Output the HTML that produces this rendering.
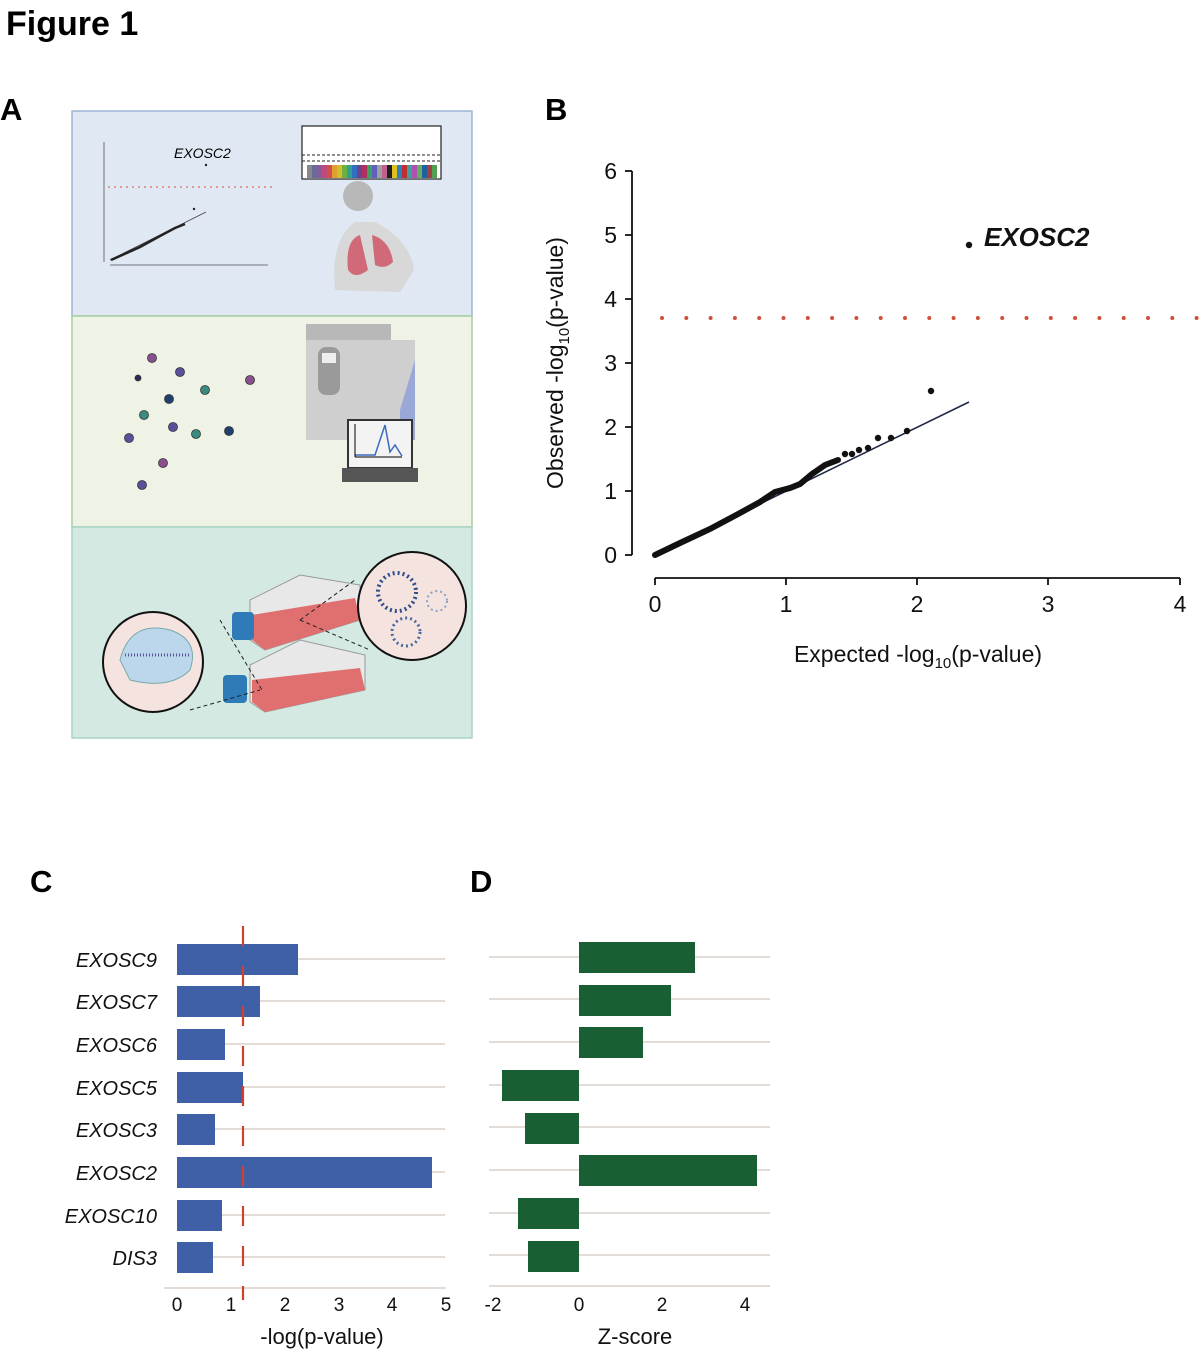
<!DOCTYPE html>
<html><head><meta charset="utf-8"><style>
html,body{margin:0;padding:0;background:#fff;}
svg{display:block;font-family:"Liberation Sans",Arial,sans-serif;}
</style></head><body>
<svg width="1203" height="1353" viewBox="0 0 1203 1353" xmlns="http://www.w3.org/2000/svg">
<text x="6" y="35" font-size="34" font-weight="bold">Figure 1</text>
<text x="0" y="120" font-size="31" font-weight="bold">A</text>
<text x="545" y="120" font-size="31" font-weight="bold">B</text>
<text x="30" y="892" font-size="31" font-weight="bold">C</text>
<text x="470" y="892" font-size="31" font-weight="bold">D</text>

<!-- Panel A -->
<rect x="72" y="111" width="400" height="205" fill="#dfe8f3" stroke="#9fb5d5" stroke-width="1.5"/>
<rect x="72" y="316" width="400" height="211" fill="#eef3e6" stroke="#a9cf9f" stroke-width="1.5"/>
<rect x="72" y="527" width="400" height="211" fill="#d3e9e2" stroke="#a9d4c6" stroke-width="1.5"/>
<!-- mini qq -->
<line x1="104" y1="142" x2="104" y2="262" stroke="#555" stroke-width="0.8"/>
<line x1="110" y1="265" x2="268" y2="265" stroke="#555" stroke-width="0.8"/>
<line x1="108" y1="187" x2="272" y2="187" stroke="#e08080" stroke-width="1.5" stroke-dasharray="2,4"/>
<text x="174" y="158" font-size="14" font-style="italic">EXOSC2</text>
<circle cx="206" cy="165" r="1.2" fill="#222"/>
<circle cx="194" cy="209" r="1.2" fill="#222"/>
<line x1="110" y1="260" x2="206" y2="212" stroke="#444" stroke-width="0.8"/>
<path d="M111,260 L140,247 L160,236 L175,228 L185,224" stroke="#222" stroke-width="2.5" fill="none"/>
<!-- manhattan -->
<rect x="302" y="126" width="139" height="53" fill="#fff" stroke="#222" stroke-width="1.2"/>
<line x1="302" y1="155" x2="441" y2="155" stroke="#222" stroke-dasharray="3,2"/>
<line x1="302" y1="161" x2="441" y2="161" stroke="#222" stroke-dasharray="3,2"/>
<g>
<rect x="307" y="165" width="5" height="13" fill="#888"/><rect x="312" y="165" width="5" height="13" fill="#6b6b9a"/>
<rect x="317" y="165" width="5" height="13" fill="#8a5aa0"/><rect x="322" y="165" width="5" height="13" fill="#c04a7a"/>
<rect x="327" y="165" width="5" height="13" fill="#d05050"/><rect x="332" y="165" width="5" height="13" fill="#e0a030"/>
<rect x="337" y="165" width="5" height="13" fill="#d0c030"/><rect x="342" y="165" width="5" height="13" fill="#70b040"/>
<rect x="347" y="165" width="5" height="13" fill="#30a090"/><rect x="352" y="165" width="5" height="13" fill="#3070c0"/>
<rect x="357" y="165" width="5" height="13" fill="#704090"/><rect x="362" y="165" width="5" height="13" fill="#b03060"/>
<rect x="367" y="165" width="5" height="13" fill="#40a060"/><rect x="372" y="165" width="5" height="13" fill="#6060c0"/>
<rect x="377" y="165" width="5" height="13" fill="#a0a0a0"/><rect x="382" y="165" width="5" height="13" fill="#c06090"/>
<rect x="387" y="165" width="5" height="13" fill="#202020"/><rect x="392" y="165" width="5" height="13" fill="#e0c020"/>
<rect x="397" y="165" width="5" height="13" fill="#3080c0"/><rect x="402" y="165" width="5" height="13" fill="#c03030"/>
<rect x="407" y="165" width="5" height="13" fill="#40a0a0"/><rect x="412" y="165" width="5" height="13" fill="#b050b0"/>
<rect x="417" y="165" width="5" height="13" fill="#60b060"/><rect x="422" y="165" width="5" height="13" fill="#2060a0"/>
<rect x="427" y="165" width="5" height="13" fill="#a04040"/><rect x="432" y="165" width="5" height="13" fill="#50a050"/>
</g>
<!-- person -->
<circle cx="358" cy="196" r="15" fill="#b8b8b8"/>
<path d="M335,290 Q330,240 355,222 L375,222 Q410,240 414,270 L400,292 Z" fill="#d8d8d8"/>
<path d="M360,235 Q345,240 348,270 Q355,280 368,270 Z M372,235 Q390,240 393,262 Q385,270 375,265 Z" fill="#d06a78"/>
<!-- dots -->
<g stroke="#333" stroke-width="0.8">
<circle cx="152" cy="358" r="4.5" fill="#8a4f8f"/><circle cx="138" cy="378" r="3" fill="#2a2a5a"/>
<circle cx="180" cy="372" r="4.5" fill="#5a4f9a"/><circle cx="250" cy="380" r="4.5" fill="#8a4f8f"/>
<circle cx="205" cy="390" r="4.5" fill="#3a8a80"/><circle cx="169" cy="399" r="4.5" fill="#1f3f6f"/>
<circle cx="144" cy="415" r="4.5" fill="#3a8a80"/><circle cx="173" cy="427" r="4.5" fill="#5a4f9a"/>
<circle cx="196" cy="434" r="4.5" fill="#3a8a80"/><circle cx="229" cy="431" r="4.5" fill="#1f3f6f"/>
<circle cx="129" cy="438" r="4.5" fill="#5a4f9a"/><circle cx="163" cy="463" r="4.5" fill="#8a4f8f"/>
<circle cx="142" cy="485" r="4.5" fill="#5a4f9a"/>
</g>
<!-- instrument -->
<rect x="306" y="312" width="85" height="16" fill="#b8b8b8" transform="translate(0,12)"/>
<rect x="306" y="340" width="109" height="100" fill="#cfcfcf"/>
<rect x="318" y="347" width="22" height="48" rx="8" fill="#9a9a9a"/>
<rect x="322" y="353" width="14" height="10" fill="#eee"/>
<path d="M400,410 L415,360 L415,440 L400,440 Z" fill="#9aa8d8"/>
<rect x="348" y="420" width="64" height="48" fill="#f3f3f3" stroke="#333" stroke-width="2"/>
<rect x="342" y="468" width="76" height="14" fill="#555"/>
<path d="M355,455 L375,455 L380,440 L385,425 L390,452 L395,445 L402,456" stroke="#3a6ac0" stroke-width="1.5" fill="none"/>
<line x1="355" y1="424" x2="355" y2="457" stroke="#000"/><line x1="355" y1="457" x2="402" y2="457" stroke="#000"/>
<!-- flasks -->
<g>
<path d="M250,600 L300,575 L360,585 L360,620 L265,650 L250,640 Z" fill="#e8e8e8" stroke="#999"/>
<path d="M252,615 L355,598 L360,620 L265,650 L252,640 Z" fill="#e07070"/>
<rect x="232" y="612" width="22" height="28" rx="4" fill="#2e7bb8"/>
<path d="M250,665 L300,640 L365,655 L365,690 L265,712 L250,702 Z" fill="#e8e8e8" stroke="#999"/>
<path d="M252,680 L360,668 L365,690 L265,712 L252,702 Z" fill="#e07070"/>
<rect x="223" y="675" width="24" height="28" rx="4" fill="#2e7bb8"/>
</g>
<line x1="220" y1="620" x2="262" y2="690" stroke="#222" stroke-dasharray="4,3"/>
<line x1="190" y1="710" x2="260" y2="690" stroke="#222" stroke-dasharray="4,3"/>
<line x1="300" y1="620" x2="355" y2="580" stroke="#222" stroke-dasharray="4,3"/>
<line x1="300" y1="620" x2="370" y2="650" stroke="#222" stroke-dasharray="4,3"/>
<circle cx="153" cy="662" r="50" fill="#f5e3df" stroke="#111" stroke-width="2"/>
<path d="M120,660 Q130,620 170,630 Q200,640 190,670 Q170,690 130,680 Z" fill="#bcd7ec" stroke="#7aa"/>
<line x1="125" y1="655" x2="190" y2="655" stroke="#5a4f9a" stroke-width="3" stroke-dasharray="1,2"/>
<circle cx="412" cy="606" r="54" fill="#f5e3df" stroke="#111" stroke-width="2"/>
<circle cx="397" cy="592" r="19" fill="none" stroke="#2e4f8a" stroke-width="4" stroke-dasharray="2,3"/>
<circle cx="406" cy="632" r="14" fill="none" stroke="#4a6aa0" stroke-width="3" stroke-dasharray="2,3"/>
<circle cx="437" cy="601" r="10" fill="none" stroke="#8aa0c8" stroke-width="2" stroke-dasharray="2,3"/>

<!-- Panel B -->
<g stroke="#111" stroke-width="1.8" fill="none">
<line x1="632" y1="171" x2="632" y2="555"/>
<line x1="625" y1="171" x2="632" y2="171"/><line x1="625" y1="235" x2="632" y2="235"/>
<line x1="625" y1="299" x2="632" y2="299"/><line x1="625" y1="363" x2="632" y2="363"/>
<line x1="625" y1="427" x2="632" y2="427"/><line x1="625" y1="491" x2="632" y2="491"/>
<line x1="625" y1="555" x2="632" y2="555"/>
<line x1="655" y1="578" x2="1180" y2="578"/>
<line x1="655" y1="578" x2="655" y2="585"/><line x1="786" y1="578" x2="786" y2="585"/>
<line x1="917" y1="578" x2="917" y2="585"/><line x1="1048" y1="578" x2="1048" y2="585"/>
<line x1="1180" y1="578" x2="1180" y2="585"/>
</g>
<g font-size="23" text-anchor="end" fill="#111">
<text x="617" y="179">6</text><text x="617" y="243">5</text><text x="617" y="307">4</text>
<text x="617" y="371">3</text><text x="617" y="435">2</text><text x="617" y="499">1</text><text x="617" y="563">0</text>
</g>
<g font-size="23" text-anchor="middle" fill="#111">
<text x="655" y="612">0</text><text x="786" y="612">1</text><text x="917" y="612">2</text>
<text x="1048" y="612">3</text><text x="1180" y="612">4</text>
</g>
<text x="918" y="662" font-size="23" text-anchor="middle" fill="#111">Expected -log<tspan font-size="15" dy="6">10</tspan><tspan dy="-6">(p-value)</tspan></text>
<text transform="translate(563,363) rotate(-90)" font-size="23" text-anchor="middle" fill="#111">Observed -log<tspan font-size="15" dy="6">10</tspan><tspan dy="-6">(p-value)</tspan></text>
<line x1="662" y1="318" x2="1200" y2="318" stroke="#d0503a" stroke-width="4" stroke-linecap="round" stroke-dasharray="0,24.3"/>
<line x1="655" y1="555" x2="969" y2="402" stroke="#1f2a44" stroke-width="1.6"/>
<path d="M655,555 L680,543 L710,529 L740,513 L760,502 L775,492 L790,488 L800,484 L812,474 L825,465 L838,460" stroke="#111" stroke-width="6" fill="none" stroke-linecap="round"/>
<g fill="#111">
<circle cx="845" cy="454" r="3.2"/><circle cx="852" cy="454" r="3.2"/><circle cx="859" cy="450" r="3.2"/>
<circle cx="868" cy="448" r="3.2"/><circle cx="878" cy="438" r="3.2"/><circle cx="891" cy="438" r="3.2"/>
<circle cx="907" cy="431" r="3.2"/><circle cx="931" cy="391" r="3.2"/><circle cx="969" cy="245" r="3.2"/>
</g>
<text x="984" y="246" font-size="26" font-weight="bold" font-style="italic" fill="#111">EXOSC2</text>

<!-- Panel C -->
<g stroke="#d8cfc8" stroke-width="1.5">
<line x1="177" y1="959" x2="445" y2="959"/><line x1="177" y1="1001" x2="445" y2="1001"/>
<line x1="177" y1="1044" x2="445" y2="1044"/><line x1="177" y1="1087" x2="445" y2="1087"/>
<line x1="177" y1="1129" x2="445" y2="1129"/><line x1="177" y1="1172" x2="445" y2="1172"/>
<line x1="177" y1="1215" x2="445" y2="1215"/><line x1="177" y1="1257" x2="445" y2="1257"/>
<line x1="164" y1="1288" x2="446" y2="1288"/>
<line x1="489" y1="957" x2="770" y2="957"/><line x1="489" y1="999" x2="770" y2="999"/>
<line x1="489" y1="1042" x2="770" y2="1042"/><line x1="489" y1="1085" x2="770" y2="1085"/>
<line x1="489" y1="1127" x2="770" y2="1127"/><line x1="489" y1="1170" x2="770" y2="1170"/>
<line x1="489" y1="1213" x2="770" y2="1213"/><line x1="489" y1="1255" x2="770" y2="1255"/>
<line x1="489" y1="1286" x2="770" y2="1286"/>
</g>
<g fill="#3f5fa6">
<rect x="177" y="944" width="121" height="31"/><rect x="177" y="986" width="83" height="31"/>
<rect x="177" y="1029" width="48" height="31"/><rect x="177" y="1072" width="66" height="31"/>
<rect x="177" y="1114" width="38" height="31"/><rect x="177" y="1157" width="255" height="31"/>
<rect x="177" y="1200" width="45" height="31"/><rect x="177" y="1242" width="36" height="31"/>
</g>
<line x1="243" y1="926" x2="243" y2="1300" stroke="#d0402a" stroke-width="2.2" stroke-dasharray="20,20"/>
<g font-size="20" font-style="italic" text-anchor="end" fill="#111">
<text x="157" y="967">EXOSC9</text><text x="157" y="1009">EXOSC7</text><text x="157" y="1052">EXOSC6</text>
<text x="157" y="1095">EXOSC5</text><text x="157" y="1137">EXOSC3</text><text x="157" y="1180">EXOSC2</text>
<text x="157" y="1223">EXOSC10</text><text x="157" y="1265">DIS3</text>
</g>
<g font-size="19" text-anchor="middle" fill="#111">
<text x="177" y="1311">0</text><text x="231" y="1311">1</text><text x="285" y="1311">2</text>
<text x="339" y="1311">3</text><text x="392" y="1311">4</text><text x="446" y="1311">5</text>
<text x="493" y="1311">-2</text><text x="579" y="1311">0</text><text x="662" y="1311">2</text><text x="745" y="1311">4</text>
</g>
<text x="322" y="1344" font-size="22" text-anchor="middle" fill="#111">-log(p-value)</text>
<text x="635" y="1344" font-size="22" text-anchor="middle" fill="#111">Z-score</text>
<!-- Panel D -->
<g fill="#1a5e34">
<rect x="579" y="942" width="116" height="31"/><rect x="579" y="985" width="92" height="31"/>
<rect x="579" y="1027" width="64" height="31"/><rect x="502" y="1070" width="77" height="31"/>
<rect x="525" y="1113" width="54" height="31"/><rect x="579" y="1155" width="178" height="31"/>
<rect x="518" y="1198" width="61" height="31"/><rect x="528" y="1241" width="51" height="31"/>
</g>
</svg>
</body></html>
